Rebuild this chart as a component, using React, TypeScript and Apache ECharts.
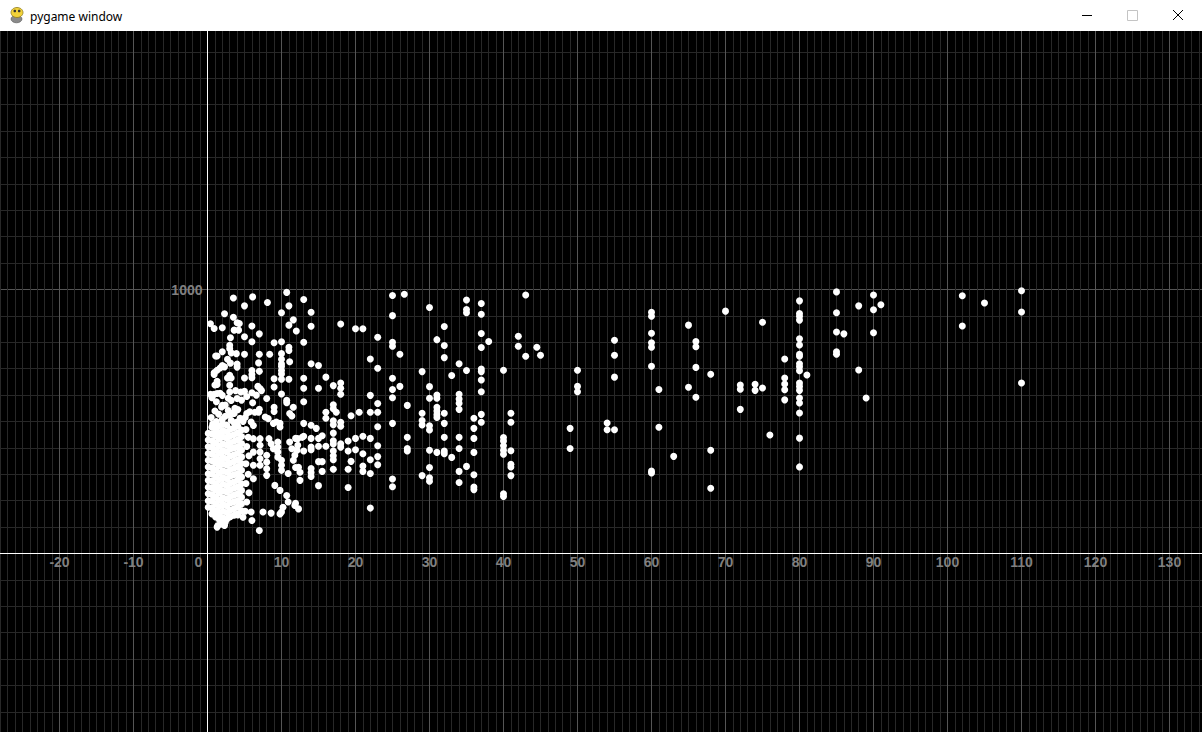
import { useEffect, useRef } from "react";
import * as echarts from "echarts";

// ---- tick labels ----
const xTickLabels = ["-20", "-10", "0", "10", "20", "30", "40", "50", "60", "70", "80", "90", "100", "110", "120", "130"];
const yTickLabels = ["1000"];

// ---- data: dense core near the origin, as columns [x, y values] ----
const coreColumns: [number, number[]][] = [
  [0.1, [175, 200, 226, 251, 277, 302, 328, 353, 379, 404, 430, 455]],
  [0.6, [150, 172, 198, 223, 249, 274, 300, 325, 351, 376, 402, 427, 453, 478]],
  [1.1, [138, 163, 189, 214, 240, 265, 291, 316, 342, 367, 393, 418, 444, 469, 492]],
  [1.6, [128, 152, 178, 203, 229, 254, 280, 305, 331, 356, 382, 407, 433, 458, 484]],
  [2.1, [135, 160, 186, 211, 237, 262, 288, 313, 339, 364, 390, 415, 441, 466, 490]],
  [2.6, [130, 155, 181, 206, 232, 257, 283, 308, 334, 359, 385, 410, 436, 461, 487]],
  [3.1, [140, 165, 191, 216, 242, 267, 293, 318, 344, 369, 395, 420, 446, 471]],
  [3.6, [145, 170, 196, 221, 247, 272, 298, 323, 349, 374, 400, 425, 451, 476, 495]],
  [4.1, [150, 176, 201, 227, 252, 278, 303, 329, 354, 380, 405, 431, 456, 482]],
  [4.6, [162, 188, 213, 239, 264, 290, 315, 341, 366, 392, 417, 443, 468]],
];

// x < 13, y above ~550
const upperLeftPoints: [number, number][] = [
  [3.5, 968], [6.1, 972], [8.1, 951], [10.7, 989], [11, 938], [5, 938],
  [2.3, 908], [3.5, 895], [10, 912], [11.6, 885], [11, 865], [12, 843],
  [0.4, 870], [0.9, 852], [2, 855], [4, 874], [4.3, 871], [3.6, 846], [4.2, 846], [6, 862], [7, 832], [5, 821], [3.1, 817], [6, 802],
  [9, 798], [10, 802], [11, 781], [11, 769],
  [3, 789], [3, 776], [2, 764], [1.1, 748], [1.3, 748], [3.2, 760], [3.9, 757], [5, 755], [7, 755], [8.4, 755],
  [10, 757], [10, 736], [10, 718], [10, 708], [10, 693], [10, 680], [10, 660], [11.1, 726],
  [2.7, 736], [3.1, 721], [4, 718], [4, 706], [2, 712], [1.7, 703], [1.3, 694], [0.9, 685], [0.9, 678], [2.3, 707],
  [6.9, 722], [6, 693], [6, 678], [6, 666], [7, 690], [5, 665], [3, 675], [2.7, 665], [3.2, 665], [1.3, 652], [1.3, 640], [9, 662], [11, 660],
  [3, 637], [3, 612], [3.8, 617], [4.5, 612], [5, 614], [6, 609], [6.8, 633], [7.1, 625], [7.3, 617],
  [0.4, 603], [0.9, 603], [1.3, 606], [2, 599], [9, 631], [10, 604],
  [2, 561], [3.2, 580], [4, 587], [6.1, 571], [8, 587], [10.7, 580], [10.7, 571], [9, 554], [11.6, 554],
  [1.0, 638], [1.7, 607], [0.6, 590], [1.2, 575], [2.4, 562], [3.7, 550], [2.8, 588], [4.6, 581], [5.3, 595], [6.6, 600],
];

// x < 13, band just above the core and its right-hand fringe
const innerFringePoints: [number, number][] = [
  [0.5, 515], [1.0, 540], [1.2, 500], [1.9, 555], [2.4, 520], [2.8, 542], [3.2, 505], [3.6, 530], [4.1, 545], [4.4, 512],
  [4.8, 500], [5.3, 530], [1.5, 528], [0.7, 490], [2.0, 508], [3.0, 525], [4.0, 498], [5.7, 537], [5.1, 515], [3.3, 531],
  [5.2, 470], [5.5, 440], [5.3, 405], [5.6, 370], [5.2, 340], [5.5, 300], [5.2, 265], [5.6, 230], [5.3, 195], [5.1, 160],
  [4.8, 137], [5.9, 157], [6.2, 485], [5.9, 498], [6.2, 435], [6.2, 384], [6.2, 334], [6.2, 283], [6.0, 125],
  [1.3, 100], [1.9, 112], [2.4, 118], [1.4, 106], [2.3, 106], [3.0, 138], [4.1, 146],
  [7.1, 435], [7.1, 410], [7.1, 384], [7.1, 359], [7.1, 334], [7.5, 157], [7.0, 87], [7, 546], [6.9, 535], [6.4, 535], [7.8, 517],
  [8.2, 511], [8, 372], [8, 346], [8, 321], [8, 296], [8.3, 435], [8.6, 416], [8.9, 397], [8.9, 493], [8.6, 153],
  [9, 538], [9.3, 498], [9.5, 422], [9.5, 403], [9.5, 384], [9.5, 365], [9.1, 258], [9.8, 493], [9.8, 479], [9.8, 239], [9.8, 150],
  [10, 353], [10, 334], [10, 315], [10, 157], [10.7, 220], [10.9, 195], [10.9, 303], [10.2, 175],
  [11.1, 530], [11.4, 521], [11.1, 422], [11.4, 397], [11.8, 372], [11.6, 353], [11.9, 436], [11.9, 326], [11.8, 182], [11.9, 190], [12.1, 391],
  [12.2, 435], [12.2, 410], [12.8, 440], [12.3, 327], [12.5, 308], [12.5, 277], [12.3, 169],
];

// 13 <= x <= 43
const midPoints: [number, number][] = [
  [13, 962], [14, 914], [14, 861], [13, 800], [18, 869], [20, 851], [21, 851], [23, 819], [25, 977], [25, 901], [26.6, 982],
  [30, 932], [32, 860], [32, 788], [32, 742], [31, 810], [35, 960], [35, 924], [35, 912], [37, 947], [37, 906], [37, 833],
  [37, 780], [38, 803], [42, 823], [42, 785],
  [13, 664], [13, 626], [13, 575], [14, 719], [15, 712], [16, 668], [15, 626], [17, 636], [18, 646], [18, 626], [18, 603],
  [22, 737], [23, 702], [25, 800], [25, 785], [26, 755], [25, 664], [26, 633], [25, 621], [25, 590], [22, 599], [23, 568],
  [23, 535], [22, 535], [20.5, 535], [19.4, 522], [17, 563], [17, 548], [17.4, 535], [16, 535], [16, 512], [17, 503],
  [17, 488], [18, 497], [18, 482],
  [13, 493], [14, 486], [14.7, 474], [13, 444], [14, 436], [15, 436], [15.5, 446], [16, 406], [13, 388], [14, 403], [14, 393], [15, 406],
  [17, 456], [17, 427], [17, 415], [18, 416], [18, 403], [19, 426], [20, 436], [21, 444], [22, 436],
  [17, 388], [17, 370], [17, 355], [19, 388], [20, 393], [21, 378],
  [15, 348], [15.5, 348], [17, 319], [15.5, 311], [14, 322], [14, 307], [14, 292],
  [19.4, 349], [19, 319], [21, 331], [21, 311], [22, 355], [22, 303], [23, 367], [23, 336], [23, 408], [23, 480],
  [15, 257], [19, 250], [22, 172], [25, 493], [27, 440], [27, 398], [27, 388], [27, 561], [25, 282], [25, 253],
  [29, 689], [30, 632], [30, 588], [31, 600], [31, 588], [31, 554], [31, 540], [31, 526], [31, 515], [32, 531], [29, 531],
  [29, 504], [29, 487], [30, 484], [30, 468], [32, 493],
  [33, 674], [34, 719], [35, 693], [34, 603], [34, 585], [34, 569], [34, 546],
  [37, 699], [37, 689], [37, 657], [37, 613], [37, 527], [37, 497], [36, 512], [36, 474], [36, 436], [36, 383], [36, 298], [36, 252], [36, 242],
  [34, 440], [34, 398], [35, 330], [34, 311], [34, 269],
  [32, 440], [30, 391], [31, 383], [32, 388], [32, 378], [33, 364],
  [30, 326], [29, 295], [30, 287], [30, 274],
  [40, 694], [41, 531], [41, 497], [40, 439], [40, 426], [40, 408], [40, 391], [40, 376], [41, 389], [41, 338], [41, 328],
  [41, 295], [40, 226], [40, 216],
];

// 43 <= x <= 76
const farPoints: [number, number][] = [
  [43, 979], [44.5, 781], [43, 747], [45, 751], [50, 694], [50, 633], [50, 613], [49, 474], [49, 398],
  [55, 808], [55, 751], [55, 668], [54, 494], [54, 469], [55, 469],
  [60, 914], [60, 899], [60, 834], [60, 798], [60, 781], [60, 709], [60, 305], [60, 312], [61, 621], [61, 478], [63, 368],
  [65, 865], [65, 630], [66, 803], [66, 783], [66, 705], [66, 592], [68, 679], [68, 391], [68, 247], [70, 918],
  [72, 638], [72, 622], [72, 546], [74, 641], [74, 618], [75, 876], [75, 627], [76, 449],
];

// x >= 78
const outerPoints: [number, number][] = [
  [78, 737], [78, 665], [78, 642], [78, 620], [78, 582],
  [80, 957], [80, 909], [80, 899], [80, 884], [80, 813], [80, 790], [80, 755], [80, 747], [80, 719], [80, 707], [80, 692],
  [80, 646], [80, 633], [80, 618], [80, 589], [80, 570], [80, 532], [80, 437], [80, 328], [81, 676],
  [85, 991], [85, 912], [85, 839], [85, 764], [85, 755], [86, 832], [88, 938], [88, 695], [89, 589],
  [90, 979], [90, 923], [91, 942], [90, 836], [102, 976], [102, 862], [105, 949], [110, 995], [110, 915], [110, 646],
];

// ---- styles ----
const MAJOR = "#555555";
const MINOR = "#282828";
const LABEL = "#808080";
const FONT = "'Liberation Sans', Arial, sans-serif";

// grid extends beyond the canvas so that the axes cross at (207.5, 553.5)
const GRID_LEFT = -14.5;
const GRID_RIGHT = -41.5;
const GRID_TOP = 25.5;
const GRID_BOTTOM = -85.5;
const ZERO_X_PX = 207.5;
const ZERO_Y_PX = 553.5;
const CANVAS_H = 732;

export default function App() {
  const ref = useRef<HTMLDivElement>(null);

  useEffect(() => {
    if (!ref.current) return;
    const chart = echarts.init(ref.current, undefined, { renderer: "svg" });

    const corePoints: [number, number][] = coreColumns.flatMap(([x, ys]) => ys.map((y) => [x, y] as [number, number]));
    const allPoints = [...corePoints, ...upperLeftPoints, ...innerFringePoints, ...midPoints, ...farPoints, ...outerPoints];

    const xColors = [MAJOR, MINOR, MINOR, MINOR, MINOR, MINOR, MINOR, MINOR, MINOR, MINOR];
    const yColors = [MAJOR, MINOR, MINOR, MINOR, MINOR, MINOR, MINOR, MINOR, MINOR, MINOR];

    const labelStyle = { color: LABEL, fontSize: 14, fontWeight: "bold", fontFamily: FONT };

    // offsets that bring the axes (line + labels) to the zero positions
    const xOffset = -(CANVAS_H - GRID_BOTTOM - ZERO_Y_PX);
    const yOffset = -(ZERO_X_PX - GRID_LEFT);

    chart.setOption({
      animation: false,
      backgroundColor: "#000000",
      grid: {
        left: GRID_LEFT,
        right: GRID_RIGHT,
        top: GRID_TOP,
        bottom: GRID_BOTTOM,
        containLabel: false,
        outerBoundsMode: "none",
      },
      xAxis: {
        type: "value",
        position: "bottom",
        offset: xOffset,
        min: -30,
        max: 140,
        interval: 1,
        axisLine: { show: true, onZero: false, lineStyle: { color: "#ffffff", width: 1 } },
        axisTick: { show: false },
        axisLabel: {
          ...labelStyle,
          margin: 1,
          formatter: (v: number) => {
            const s = String(Math.round(v));
            if (!xTickLabels.includes(s)) return "";
            return s === "0" ? "{z|0}" : s;
          },
          rich: { z: { ...labelStyle, padding: [0, 18, 0, 0] } },
        },
        splitLine: { show: true, showMinLine: true, showMaxLine: true, lineStyle: { color: xColors, width: 1 } },
      },
      yAxis: {
        type: "value",
        position: "left",
        offset: yOffset,
        min: -1000,
        max: 2000,
        interval: 100,
        axisLine: { show: true, onZero: false, lineStyle: { color: "#ffffff", width: 1 } },
        axisTick: { show: false },
        axisLabel: {
          ...labelStyle,
          margin: 5,
          formatter: (v: number) => {
            const s = String(Math.round(v));
            return yTickLabels.includes(s) ? s : "";
          },
        },
        splitLine: { show: true, showMinLine: true, showMaxLine: true, lineStyle: { color: yColors, width: 1 } },
      },
      series: [
        {
          type: "scatter",
          data: allPoints,
          symbol: "circle",
          symbolSize: 7,
          itemStyle: { color: "#ffffff", opacity: 1 },
          z: 5,
        },
      ],
      graphic: [
        { type: "rect", z: 100, shape: { x: 0, y: 0, width: 1202, height: 31 }, style: { fill: "#ffffff" } },
        { type: "ellipse", z: 101, shape: { cx: 16.5, cy: 19, rx: 5.5, ry: 3.8 }, style: { fill: "#8a8a8a", stroke: "#555", lineWidth: 0.6 } },
        { type: "ellipse", z: 102, shape: { cx: 17, cy: 12.5, rx: 6, ry: 5 }, style: { fill: "#f2d23a", stroke: "#8c7a1e", lineWidth: 0.8 } },
        { type: "circle", z: 103, shape: { cx: 14.8, cy: 11, r: 1.3 }, style: { fill: "#333" } },
        { type: "circle", z: 103, shape: { cx: 19.2, cy: 11, r: 1.3 }, style: { fill: "#333" } },
        {
          type: "text",
          z: 101,
          x: 30,
          y: 16,
          style: { text: "pygame window", fill: "#000000", fontSize: 12, fontFamily: "'Noto Sans', 'DejaVu Sans', sans-serif", verticalAlign: "middle" },
        },
        { type: "line", z: 101, shape: { x1: 1082, y1: 15.5, x2: 1092, y2: 15.5 }, style: { stroke: "#000000", lineWidth: 1 } },
        { type: "rect", z: 101, shape: { x: 1127.5, y: 10.5, width: 10, height: 10 }, style: { fill: "none", stroke: "#c4c4c4", lineWidth: 1 } },
        { type: "line", z: 101, shape: { x1: 1173, y1: 10, x2: 1183, y2: 20 }, style: { stroke: "#000000", lineWidth: 1 } },
        { type: "line", z: 101, shape: { x1: 1183, y1: 10, x2: 1173, y2: 20 }, style: { stroke: "#000000", lineWidth: 1 } },
      ],
    });

    return () => chart.dispose();
  }, []);

  return <div ref={ref} style={{ position: "fixed", left: 0, top: 0, width: 1202, height: 732 }} />;
}
